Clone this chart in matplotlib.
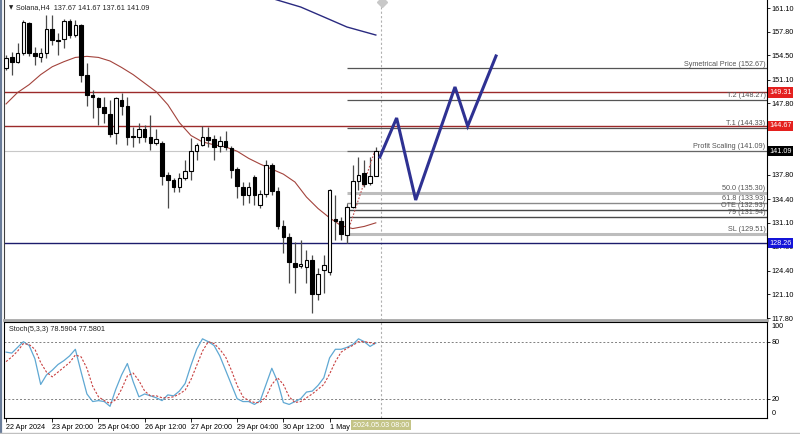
import matplotlib
matplotlib.use('Agg')
import matplotlib.pyplot as plt
import matplotlib.transforms as mtransforms
import numpy as np

plt.rcParams['font.family'] = ['Liberation Sans', 'DejaVu Sans']

# ---------------- data ----------------
opens = [152.72, 154.26, 153.56, 154.82, 159.01, 154.82, 154.26, 154.82, 158.17, 156.63,
         156.77, 159.29, 157.33, 158.73, 151.75, 148.95, 148.53, 147.28, 146.30, 143.64,
         148.25, 147.42, 143.20, 143.09, 144.20, 143.09, 142.25, 142.25, 137.78, 137.08,
         136.10, 137.36, 138.34, 141.13, 141.97, 143.09, 142.81, 141.83, 142.53, 141.55,
         138.62, 136.10, 134.99, 137.50, 133.59, 135.13, 139.18, 135.54, 130.66, 129.12,
         125.49, 125.10, 124.93, 125.91, 121.16, 124.51, 124.23, 131.63, 131.35, 129.40,
         133.31, 136.94, 138.05, 136.66, 137.67]
highs = [154.54, 154.96, 156.21, 159.43, 159.15, 155.66, 155.52, 160.13, 160.13, 157.61,
         159.57, 159.57, 159.43, 158.87, 153.42, 149.65, 148.67, 148.67, 148.25, 148.67,
         149.23, 148.67, 144.48, 145.04, 144.76, 146.16, 144.20, 142.53, 138.20, 137.36,
         138.00, 139.87, 142.95, 142.25, 144.62, 144.48, 143.36, 143.20, 143.92, 141.80,
         138.90, 136.80, 136.80, 137.78, 135.68, 139.87, 139.46, 136.10, 131.50, 129.68,
         128.42, 128.70, 127.30, 126.61, 124.79, 126.61, 135.82, 134.99, 131.91, 133.59,
         139.18, 140.29, 139.87, 140.29, 141.67]
lows = [152.44, 151.75, 153.42, 154.54, 154.40, 153.14, 153.56, 154.12, 155.93, 154.54,
        155.52, 156.91, 157.05, 150.77, 147.42, 145.74, 144.76, 145.04, 143.09, 142.11,
        146.16, 141.97, 141.69, 142.25, 142.39, 141.27, 141.97, 136.38, 133.17, 135.40,
        135.40, 137.08, 137.08, 139.87, 141.83, 141.69, 139.87, 141.00, 141.27, 137.36,
        134.57, 133.59, 133.90, 133.59, 133.20, 134.71, 134.99, 130.30, 126.88, 122.69,
        121.30, 124.79, 122.69, 118.50, 120.32, 121.30, 123.81, 128.70, 128.70, 128.28,
        133.17, 135.68, 136.10, 136.38, 137.61]
closes = [154.12, 153.56, 154.82, 159.15, 154.82, 154.40, 154.82, 158.17, 156.63, 156.50,
          159.29, 157.33, 158.73, 151.75, 148.95, 148.67, 147.28, 146.44, 143.50, 148.53,
          147.42, 143.09, 143.09, 144.20, 143.09, 142.25, 142.81, 137.64, 137.08, 136.10,
          137.36, 138.34, 141.13, 141.97, 143.09, 142.67, 141.69, 142.53, 141.69, 138.48,
          136.24, 134.99, 136.10, 134.99, 135.13, 139.18, 135.54, 130.66, 129.12, 125.63,
          124.93, 125.30, 125.91, 121.16, 123.95, 125.21, 135.68, 131.35, 129.54, 133.31,
          136.94, 137.78, 136.52, 137.64, 141.09]

ma_fast_idx = list(range(0, 65, 2))
ma_fast = [147.7, 149.3, 150.4, 151.8, 152.9, 153.6, 154.2, 154.35, 154.2, 153.7,
           152.8, 151.8, 150.6, 149.4, 147.6, 145.1, 143.3, 142.4, 142.0, 141.7,
           141.1, 140.1, 139.3, 138.6, 137.9, 136.8, 134.7, 133.1, 131.8, 130.7,
           130.3, 130.6, 131.1]

ma_slow_idx = [46, 47, 51, 55, 59, 64]
ma_slow = [162.45, 162.20, 161.24, 159.85, 158.45, 157.33]

stoch_k = [69, 68, 74, 80, 76, 62, 35, 45, 50, 56, 60, 65, 72, 48, 25, 17, 18, 17, 12, 30,
           45, 57, 38, 22, 25, 23, 21, 18, 24, 23, 28, 36, 55, 72, 83, 80, 76, 65, 50, 35,
           20, 17, 17, 14, 18, 35, 52, 38, 16, 14, 17, 20, 27, 28, 34, 42, 63, 72, 72, 74,
           77, 83, 80, 75, 78.59]
stoch_d = [59, 64, 70, 78, 77, 72, 58, 48, 43, 48, 53, 58, 66, 64, 52, 33, 22, 18, 15, 19,
           30, 44, 47, 39, 28, 23, 23, 21, 21, 22, 25, 29, 40, 55, 70, 80, 78, 72, 64, 50,
           34, 22, 18, 16, 16, 22, 35, 42, 35, 22, 16, 17, 21, 25, 30, 35, 46, 59, 69, 73,
           76, 80, 80, 79, 77.58]

red_levels = [149.31, 144.67]
blue_level = 128.26
bid_price = 141.09

fib_names = ['Symetrical Price', 'T.2', 'T.1', 'Profit Scaling', '50.0', '61.8', 'OTE', '79', 'SL']
fib_levels = [152.67, 148.27, 144.33, 141.09, 135.30, 133.93, 132.93, 131.94, 129.51]

fib_trend_x = [59.2, 63.8]
fib_trend_y = [130.0, 141.1]

zz_x = [64.7, 67.6, 70.9, 77.7, 79.9, 84.8]
zz_y = [140.29, 145.74, 134.29, 150.07, 144.62, 154.40]

price_ticks = [161.10, 157.80, 154.50, 151.10, 147.80, 144.40, 141.10, 137.80,
               134.40, 131.10, 127.80, 124.40, 121.10, 117.80]
hidden_ticks = [144.40, 141.10]
date_tick_idx = [0, 8, 16, 24, 32, 40, 48, 56]
date_tick_labels = ['22 Apr 2024', '23 Apr 20:00', '25 Apr 04:00', '26 Apr 12:00',
                    '27 Apr 20:00', '29 Apr 04:00', '30 Apr 12:00', '1 May 20:00']
cursor_idx = 64.9
cursor_label = '2024.05.03 08:00'
header = 'Solana,H4  137.67 141.67 137.61 141.09'
stoch_header = 'Stoch(5,3,3) 78.5904 77.5801'

# ---------------- figure ----------------
W, H = 800, 434
fig = plt.figure(figsize=(8.0, 4.34), dpi=100)
fig.patch.set_facecolor('white')

def fx(px):
    return px / W

def fy(py):
    return 1 - py / H

ax = fig.add_axes([fx(4), fy(320), fx(767) - fx(4), fy(0) - fy(320)])
ax2 = fig.add_axes([fx(4), fy(418), fx(767) - fx(4), fy(322) - fy(418)])

XL = (-0.35, 131.7)
ax.set_xlim(*XL)
ax.set_ylim(117.53, 162.22)
ax2.set_xlim(*XL)
ax2.set_ylim(-0.3, 100.7)

FS = 5.2

for a in (ax, ax2):
    a.set_facecolor('white')
ax.spines['top'].set_visible(False)
ax.spines['left'].set_color('#404040')
ax.spines['right'].set_color('black')
ax.spines['right'].set_linewidth(0.8)
ax.spines['bottom'].set_color('#a8a8a8')
ax.spines['bottom'].set_linewidth(2.0)
ax.set_xticks([])
ax.yaxis.tick_right()
ax.set_yticks(price_ticks)
ax.set_yticklabels(['' if t in hidden_ticks else f'{t:.2f}' for t in price_ticks])
ax.tick_params(axis='y', length=2, width=0.6, pad=1.5, labelsize=FS, colors='black')

for s in ax2.spines.values():
    s.set_color('black')
    s.set_linewidth(0.8)

# horizontal lines
ax.axhline(bid_price, color='#c8c8c8', lw=0.8, zorder=1)
for lv in red_levels:
    ax.axhline(lv, color='#9c2a2a', lw=1.0, zorder=2)
ax.axhline(blue_level, color='#1c1c6c', lw=1.0, zorder=2)

fib_styles = {
    'Symetrical Price': ('#555555', 0.9), 'T.2': ('#555555', 0.9), 'T.1': ('#555555', 0.9),
    'Profit Scaling': ('#666666', 0.9), '50.0': ('#bdbdbd', 2.2), '61.8': ('#8a8a8a', 1.0),
    'OTE': ('#4a4a4a', 1.0), '79': ('#4a4a4a', 1.0), 'SL': ('#bdbdbd', 2.2)}
for name, lv in zip(fib_names, fib_levels):
    col, lw = fib_styles[name]
    ax.hlines(lv, 59.0, XL[1], color=col, lw=lw, zorder=2)
    ax.text(131.45, lv + 0.12, f'{name} ({lv:.2f})', ha='right', va='bottom',
            fontsize=FS, color='#555555', zorder=3)
ax.vlines(59.0, 128.3, 133.93, color='#666666', lw=0.8, zorder=2)
ax.plot(fib_trend_x, fib_trend_y, color='#c05050', lw=0.8, ls=(0, (1.5, 1.5)), zorder=5)

# moving averages
ax.plot(ma_fast_idx, ma_fast, color='#a3433c', lw=0.8, zorder=3)
ax.plot(ma_slow_idx, ma_slow, color='#2a2a80', lw=1.0, zorder=3)

# candles
o = np.array(opens)
c = np.array(closes)
hi = np.array(highs)
lo = np.array(lows)
xs = np.arange(len(o))
up = c >= o
ax.vlines(xs, lo, hi, color='#4a4a4a', lw=0.9, zorder=4)
bb = np.minimum(o, c)
bh = np.maximum(np.abs(c - o), 0.1)
ax.bar(xs[up], bh[up], bottom=bb[up], width=0.62, facecolor='white',
       edgecolor='black', linewidth=0.8, zorder=5)
ax.bar(xs[~up], bh[~up], bottom=bb[~up], width=0.62, facecolor='black',
       edgecolor='black', linewidth=0.8, zorder=5)

# zigzag projection
ax.plot(zz_x, zz_y, color='#2e3192', lw=2.2, solid_joinstyle='miter', zorder=6)

# cursor line
for a in (ax, ax2):
    a.axvline(cursor_idx, color='#b0b0b0', lw=0.8, ls=(0, (2, 2)), zorder=1)
ax.plot([cursor_idx + 0.2], [162.0], marker='D', ms=5, color='#c8c8c8',
        clip_on=False, zorder=6)

# price label boxes
tr = mtransforms.blended_transform_factory(ax.transAxes, ax.transData)
def price_box(val, bg):
    ax.text(1.003, val, f'{val:.2f}', transform=tr, ha='left', va='center',
            fontsize=FS, color='white', zorder=10,
            bbox=dict(boxstyle='square,pad=0.22', facecolor=bg, edgecolor='none'))
for lv in red_levels:
    price_box(lv, '#e4201e')
price_box(bid_price, 'black')
price_box(blue_level, '#1414d8')

# header
ax.text(0.006, 0.985, '\u25BC', transform=ax.transAxes, fontsize=4, family='DejaVu Sans',
        va='top', ha='left', color='#222222')
ax.text(0.016, 0.988, header, transform=ax.transAxes, fontsize=FS, va='top', ha='left',
        color='#222222')

# stochastic
ax2.plot(xs, stoch_k, color='#5fa8d3', lw=0.9, zorder=3)
ax2.plot(xs, stoch_d, color='#c84040', lw=0.8, ls=(0, (2, 1.5)), zorder=3)
for lv in (20, 80):
    ax2.axhline(lv, color='#808080', lw=0.7, ls=(0, (2, 2)), zorder=1)
ax2.text(0.006, 0.96, stoch_header, transform=ax2.transAxes, fontsize=FS, va='top',
         ha='left', color='#222222')
ax2.yaxis.tick_right()
ax2.set_yticks([20, 80])
ax2.set_yticklabels(['20', '80'])
ax2.tick_params(axis='y', length=2, width=0.6, pad=1.5, labelsize=FS)
tr2 = mtransforms.blended_transform_factory(ax2.transAxes, ax2.transData)
ax2.text(1.006, 96, '100', transform=tr2, fontsize=FS, va='center', ha='left')
ax2.text(1.006, 4.5, '0', transform=tr2, fontsize=FS, va='center', ha='left')

ax2.set_xticks(date_tick_idx)
ax2.set_xticklabels(date_tick_labels)
ax2.tick_params(axis='x', length=3, width=0.6, pad=1.5, labelsize=FS)
for lab in ax2.get_xticklabels():
    lab.set_ha('left')

trx = mtransforms.blended_transform_factory(ax2.transData, ax2.transAxes)
ax2.text(cursor_idx, -0.075, cursor_label, transform=trx, ha='center', va='center',
         fontsize=FS, color='white', zorder=10,
         bbox=dict(boxstyle='square,pad=0.2', facecolor='#c4c487', edgecolor='none'))

# window frame bits
fig.add_artist(plt.Line2D([fx(1.2), fx(1.2)], [fy(0), fy(434)], color='#6a7d9a', lw=1.6))
fig.add_artist(plt.Line2D([0, 1], [fy(432.5), fy(432.5)], color='#c0c0c0', lw=1.0))

fig.savefig('out.png', dpi=100, facecolor='white')
